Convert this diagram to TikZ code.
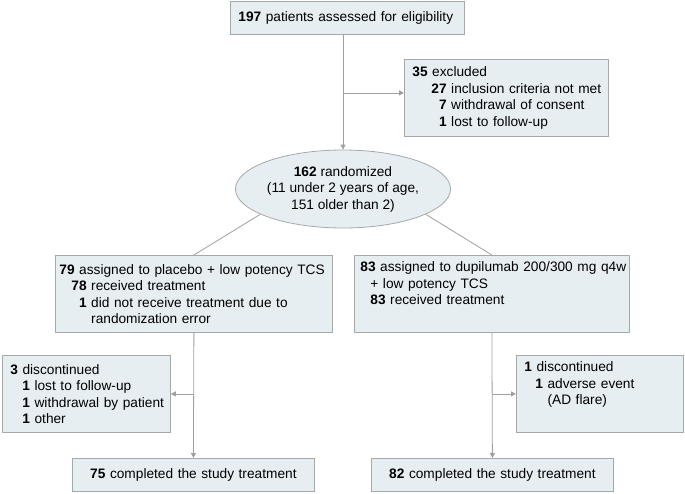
\documentclass[tikz,border=0pt]{standalone}
\usepackage{fontspec}
\setmainfont{Liberation Sans}
\usepackage{tikz}
\usetikzlibrary{positioning}
\usetikzlibrary{calc}
\usetikzlibrary{arrows.meta}
\usetikzlibrary{shapes.geometric}
\definecolor{boxfill}{HTML}{E7EEF2}
\definecolor{boxline}{HTML}{A5A9AC}
\definecolor{arrline}{HTML}{A0A0A0}

\begin{document}
\begin{tikzpicture}[x=1pt, y=-1pt, every node/.style={font=\fontsize{13.7}{16.5}\selectfont},
        box/.style={rectangle, draw=boxline, fill=boxfill, line width=0.8pt, align=left, anchor=north west, inner xsep=8pt, inner ysep=5pt},
        tall/.style={minimum height=77pt},
        link/.style={draw=arrline, line width=0.8pt},
        arr/.style={link, -{Triangle[length=5pt, width=5pt]}}]
        % Fix the page to the size of the flow chart
        \useasboundingbox (0,0) rectangle (685,493);

        % Screening and exclusion
        \node[box, text width=218pt, minimum height=33pt] (T) at (230,1) {\textbf{197} patients assessed for eligibility};
        \node[box, tall, text width=188pt] (E) at (404,59) {\textbf{35} excluded\\
          \mbox{\hspace*{19pt}\textbf{27} inclusion criteria not met}\\
          \hspace*{19pt}\phantom{\textbf{2}}\textbf{7} withdrawal of consent\\
          \hspace*{19pt}\phantom{\textbf{2}}\textbf{1} lost to follow-up};

        % Randomization
        \node[ellipse, draw=boxline, fill=boxfill, line width=0.8pt, minimum width=182pt, minimum height=78pt, inner sep=0pt, align=center] (R) at (343,189) {\textbf{162} randomized\\(11 under 2 years of age,\\151 older than 2)};

        % The two arms
        \node[box, tall, text width=269pt, inner xsep=4pt] (P) at (55,255) {\mbox{\textbf{79} assigned to placebo + low potency TCS}\\
          \hspace*{12pt}\textbf{78} received treatment\\
          \hspace*{12pt}\phantom{\textbf{7}}\textbf{1} did not receive treatment due to\\
          \hspace*{12pt}\phantom{\textbf{71} }randomization error};
        \node[box, tall, text width=263pt, inner xsep=6pt] (D) at (354,255) {\mbox{\textbf{83} assigned to dupilumab 200/300 mg q4w}\\
          \hspace*{10pt}+ low potency TCS\\
          \hspace*{10pt}\textbf{83} received treatment\\ \strut};

        % Discontinued
        \node[box, tall, text width=152pt] (PX) at (2,355) {\textbf{3} discontinued\\
          \hspace*{12pt}\textbf{1} lost to follow-up\\
          \mbox{\hspace*{12pt}\textbf{1} withdrawal by patient}\\
          \hspace*{12pt}\textbf{1} other};
        \node[box, tall, text width=151pt] (DX) at (516,355) {\textbf{1} discontinued\\
          \hspace*{11pt}\textbf{1} adverse event\\
          \hspace*{11pt}\phantom{\textbf{1} }(AD flare)\\ \strut};

        % Completed
        \node[box, text width=226pt, align=center, minimum height=33pt] (PC) at (72,458) {\textbf{75} completed the study treatment};
        \node[box, text width=226pt, align=center, minimum height=33pt] (DC) at (371,458) {\textbf{82} completed the study treatment};

        \coordinate (Ein) at ($(E.west)+(0,-5)$);

        \draw[arr] (T.south -| R.north) -- (R.north);
        \draw[arr] (R.north |- Ein) -- (Ein);
        \draw[link] (R.197) -- (P.north);
        \draw[link] (R.343) -- (D.north);
        \draw[arr] (P.south) -- (PC.north);
        \draw[arr] (P.south |- PX.east) -- (PX.east);
        \draw[arr] (D.south) -- (DC.north);
        \draw[arr] (D.south |- DX.west) -- (DX.west);
      \end{tikzpicture}
\end{document}
